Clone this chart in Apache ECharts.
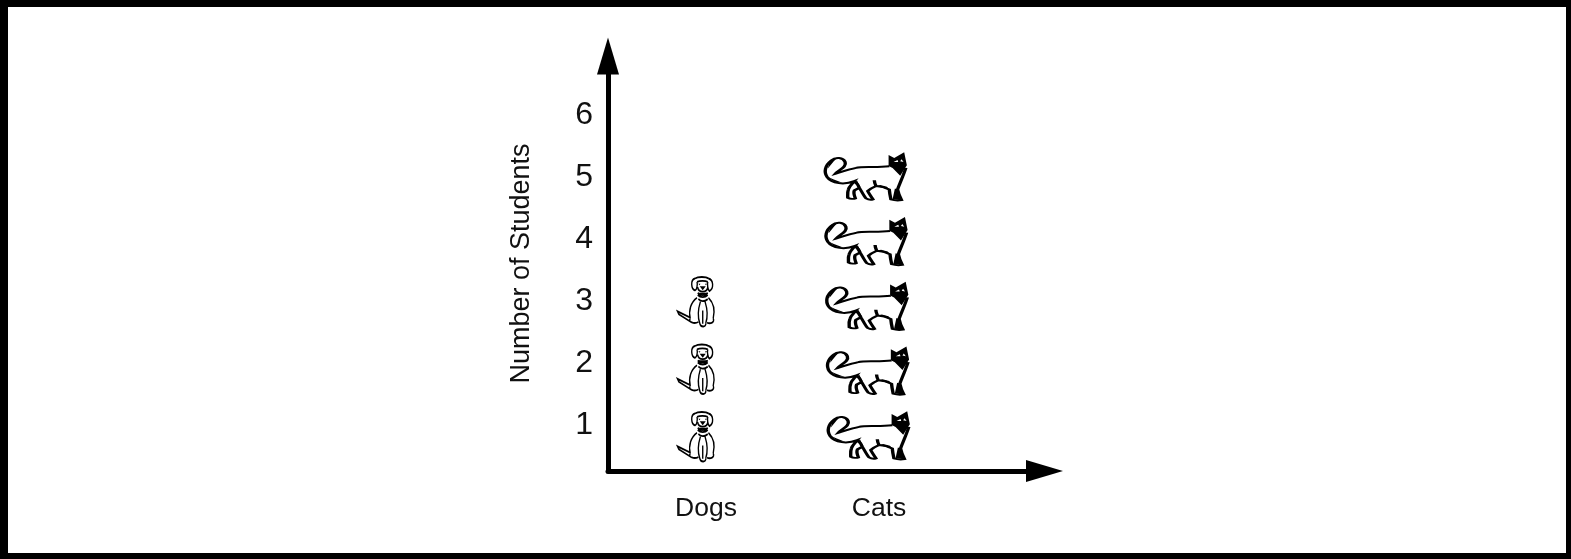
<!DOCTYPE html>
<html>
<head>
<meta charset="utf-8">
<title>Number of Students</title>
<style>
    html, body { margin: 0; padding: 0; background: #fff; }
    #main { width: 1571px; height: 559px; }
    #frame { position: fixed; left: 0; top: 0; width: 1571px; height: 559px; box-sizing: border-box; border: solid #000; border-width: 7px 5px 6px 8px; pointer-events: none; }
</style>
</head>
<body>
<div id="main"></div>
<div id="frame"></div>
<script src="https://cdn.jsdelivr.net/npm/echarts@6/dist/echarts.min.js"></script>
<script>
var categories = ['Dogs', 'Cats'];
var studentCounts = [3, 5];
var yTicks = [1, 2, 3, 4, 5, 6];
var xTicks = [0, 1];

// outline pictures, same box for line part and black part
var catLines = 'path://M195 43C150 48 115 42 95 48C75 52 52 60 32 66C42 54 68 46 62 30C56 16 34 14 20 26C2 40 -3 60 8 76C22 96 60 100 90 88C82 98 74 104 72 113C68 122 70 132 70 138C78 142 88 142 93 140C90 132 86 124 90 116L105 108C112 120 118 132 125 140C132 144 140 145 146 143C140 134 134 126 130 118C138 110 148 106 155 103C170 104 185 108 195 113C196 124 198 134 200 143C210 146 222 147 232 145C226 134 222 124 220 113C228 92 238 70 245 48M90 88C97 94 102 101 105 108M155 103C152 96 150 90 150 85M0 0L0 0M250 148L250 148';
var catBlack = 'path://M0 0L.1 0L0 .1ZM250 148L249.9 148L250 147.9Z' +
    'M193 9L210 18L240 1L248 40L228 72L205 48L193 42Z' +
    'M208 30L222 30L220 24ZM228 28L238 30L232 22Z' +
    'M205 143L232 146L222 114L212 110Z' +
    'M155 103L195 113L188 105L168 100Z' +
    'M92 92L112 120L107 104L98 86Z' +
    'M16 26L40 16L28 28L10 50ZM8 74L30 90L56 94L26 82Z';
var dogLines = 'path://M52 4C38 8 40 35 52 40C58 38 60 22 58 14M92 4C108 8 108 35 95 42C90 38 88 22 90 14M52 4C60 -2 85 -2 92 4M58 14C66 10 82 10 90 14M60 30C62 48 88 48 90 30M60 48C68 56 82 56 90 48M60 54C68 62 82 62 90 54M58 62C40 75 32 100 38 125M92 62C108 78 112 100 106 125M62 66C70 74 80 74 90 66M68 74C60 100 60 120 66 138M82 74C90 100 90 120 84 138M66 138C68 152 86 152 84 138M38 125C30 135 50 142 62 135M106 125C112 135 98 142 88 137M38 122L0 103L4 112L40 135M75 100L75 140M0 0L0 0M110 150L110 150';
var dogBlack = 'path://M0 0L.1 0L0 .1ZM110 150L109.9 150L110 149.9Z' +
    'M66 28L84 28L75 40ZM62 20L68 20L66 25ZM82 20L88 20L84 25Z' +
    'M60 47L90 47L80 53L70 53Z';

function rows(idx) {
    var out = [];
    for (var r = 1; r <= studentCounts[idx]; r++) {
        // hand placed in the original: cats lean left going up, dogs sit a bit closer to the top
        var offset = idx === 1 ? [1.5 - (r - 1) * 0.75, -1.5] : [1.5, -(r - 1) * 2.75];
        out.push({ value: [xTicks[idx], r], symbolOffset: offset });
    }
    return out;
}

function picture(idx, symbol, size, fill, stroke, width) {
    return {
        type: 'scatter',
        name: categories[idx],
        yAxisIndex: 1,
        symbol: symbol,
        symbolSize: size,
        silent: true,
        itemStyle: { color: fill, borderColor: stroke, borderWidth: width, opacity: 1 },
        data: rows(idx)
    };
}

var chart = echarts.init(document.getElementById('main'));

var option = {
    animation: false,
    backgroundColor: '#fff',
    textStyle: { fontFamily: '"Liberation Sans", Arial, sans-serif', color: '#111' },
    grid: { left: 608, top: 56, width: 436.5, height: 415, containLabel: false },
    xAxis: {
        type: 'value',
        min: -0.5,
        max: 2.023,
        splitLine: { show: false },
        axisLine: {
            onZero: false,
            symbol: ['none', 'triangle'],
            symbolSize: [22, 37],
            lineStyle: { color: '#000', width: 5 }
        },
        axisTick: { show: false },
        axisLabel: {
            customValues: xTicks,
            margin: 24,
            fontSize: 26.5,
            color: '#111',
            padding: [0, 0, 0, 23],
            formatter: function (v) { return categories[v]; }
        }
    },
    yAxis: [
        {
            type: 'value',
            min: 0.267,
            max: 6.957,
            name: 'Number of Students',
            nameLocation: 'middle',
            nameGap: 73,
            nameTextStyle: { fontSize: 27, color: '#111' },
            splitLine: { show: false },
            axisLine: {
                show: true,
                onZero: false,
                symbol: ['none', 'triangle'],
                symbolSize: [22, 37],
                lineStyle: { color: '#000', width: 5 }
            },
            axisTick: { show: false },
            axisLabel: { customValues: yTicks, margin: 15, fontSize: 32, color: '#111' }
        },
        // the pictures sit on a slightly wider row spacing than the tick labels
        { type: 'value', show: false, min: 0.475, max: 6.884, splitLine: { show: false } }
    ],
    series: [
        picture(0, dogLines, [37, 50], '#fff', '#000', 1.6),
        picture(0, dogBlack, [37, 50], '#000', '#000', 0),
        picture(1, catLines, [83, 49], 'rgba(0,0,0,0)', '#000', 2.6),
        picture(1, catBlack, [83, 49], '#000', '#000', 0)
    ]
};

chart.setOption(option);
</script>
</body>
</html>
